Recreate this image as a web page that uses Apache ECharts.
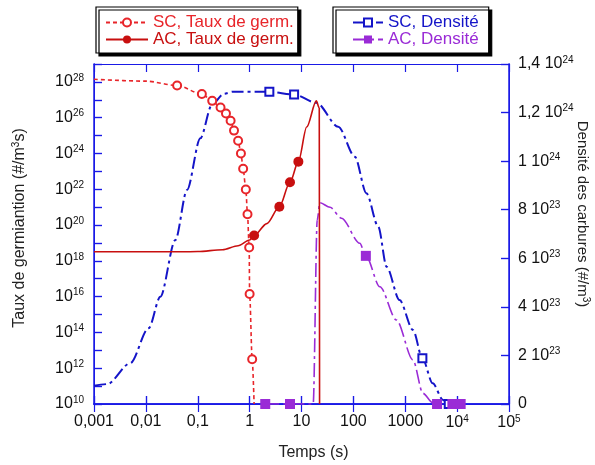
<!DOCTYPE html>
<html><head><meta charset="utf-8">
<script src="https://cdn.jsdelivr.net/npm/echarts@6/dist/echarts.min.js"></script>
<style>html,body{margin:0;padding:0;background:#fff}#c{width:595px;height:465px}</style>
</head><body><div id="c"></div>
<script>
// ---------- data ----------
const xTickLabels = ['0,001','0,01','0,1','1','10','100','1000','10^4','10^5'];
const leftTickLabels = ['10^10','10^12','10^14','10^16','10^18','10^20','10^22','10^24','10^26','10^28'];
const rightTickLabels = ['0','2 10^23','4 10^23','6 10^23','8 10^23','1 10^24','1,2 10^24','1,4 10^24'];

// SC, Taux de germ. (left log axis)
const scTauxT = [0.001,0.01,0.04,0.12,0.19,0.275,0.35,0.43,0.50,0.60,0.68,0.75,0.845,0.91,0.98,1.0,1.12,1.22];
const scTauxV = [1.4e28,1.1e28,6.3e27,2.1e27,8.7e26,3.7e26,1.7e26,6.8e25,1.9e25,5.1e24,1.0e24,1.4e23,9.8e21,4.0e20,5.6e18,1.4e16,3.2e12,1.0e10];
const scTauxMk = [0,0,1,1,1,1,1,1,1,1,1,1,1,1,1,1,1,0];

// AC, Taux de germ. (left log axis)
const acTauxT = [0.001,0.01,0.05,0.1,0.3,0.6,1.0,1.22,2.15,3.74,6.0,8.7,12.6,19.3,22.0,22.3];
const acTauxV = [3.2e18,3.2e18,3.2e18,3.3e18,4.2e18,7.0e18,1.45e19,2.6e19,1.2e20,1.05e21,2.45e22,3.5e23,3.0e25,8.7e26,3.5e26,1.0e10];
const acTauxMk = [0,0,0,0,0,0,0,1,0,1,1,1,0,0,0,0];

// SC, Densité (right axis)
const scDensT = [0.001,0.0018,0.005,0.0113,0.019,0.037,0.062,0.112,0.187,0.316,0.48,2.4,7.2,19.5,51,107,178,302,437,776,1410,2140,3390,5370,6900,9000];
const scDensV = [0.075e24,0.082e24,0.168e24,0.312e24,0.442e24,0.675e24,0.881e24,1.094e24,1.231e24,1.277e24,1.286e24,1.286e24,1.274e24,1.24e24,1.142e24,1.018e24,0.868e24,0.73e24,0.565e24,0.428e24,0.305e24,0.188e24,0.085e24,0.016e24,0,0];
const scDensMk = [0,0,0,0,0,0,0,0,0,0,0,1,1,0,0,0,0,0,0,0,0,1,0,0,1,1];

// AC, Densité (right axis)
const acDensT = [2.0,6.0,16.8,20.1,22.6,35.5,59,133,174,324,676,1410,2190,3390,4100,8100,11700];
const acDensV = [0,0,0,0.758e24,0.829e24,0.81e24,0.765e24,0.662e24,0.61e24,0.483e24,0.346e24,0.181e24,0.044e24,0.005e24,0,0,0];
const acDensMk = [1,1,0,0,0,0,0,0,1,0,0,0,0,0,1,1,1];

// ---------- helpers ----------
const sup = s => s.replace(/\^(\d+)/g, '{sup|$1}');
const mk = (t, v, m) => t.map((x, i) => ({ value: [x, v[i]], symbol: m[i] ? undefined : 'none' }));
const FONT = 'Liberation Sans';
const AXC = '#1a1ae6';
const rich = { sup: { fontSize: 10, fontFamily: FONT, color: '#111', padding: [0, 0, 8, 0] } };
const C_SCT = '#e8252a', C_ACT = '#c80f0f', C_SCD = '#1414c8', C_ACD = '#9a2bd6';
const tick = () => ({ show: true, inside: true, length: 8, lineStyle: { color: AXC, width: 1.2 } });
const noSplit = () => ({ show: true, lineStyle: { opacity: 0 } });
// bare overlay axes that only carry the inward ticks
const tickAxis = (type, min, max, interval, position) => ({
  type, min, max, interval, position,
  axisLine: { show: true, lineStyle: { color: AXC } },
  axisTick: tick(), splitLine: noSplit(),
  axisLabel: { color: 'rgba(0,0,0,0)' }
});

const chart = echarts.init(document.getElementById('c'));
chart.setOption({
  animation: false,
  grid: { left: 94, right: 86, top: 64, bottom: 61, outerBoundsMode: 'none' },
  legend: [
    {
      orient: 'vertical', left: 96, top: 7, itemWidth: 42, itemHeight: 10, itemGap: 0,
      padding: [7, 4, 5, 9], borderColor: '#000', borderWidth: 1.2, backgroundColor: '#fff',
      shadowColor: '#000', shadowOffsetX: 3, shadowOffsetY: 3, shadowBlur: 0,
      textStyle: { fontSize: 17, fontFamily: FONT },
      data: [
        { name: 'SC, Taux de germ.', textStyle: { color: C_SCT } },
        { name: 'AC, Taux de germ.', textStyle: { color: C_ACT } }
      ]
    },
    {
      orient: 'vertical', left: 333, top: 7, itemWidth: 30, itemHeight: 10, itemGap: 0,
      padding: [7, 10, 5, 19], borderColor: '#000', borderWidth: 1.2, backgroundColor: '#fff',
      shadowColor: '#000', shadowOffsetX: 3, shadowOffsetY: 3, shadowBlur: 0,
      textStyle: { fontSize: 17, fontFamily: FONT },
      data: [
        { name: 'SC, Densité', textStyle: { color: C_SCD } },
        { name: 'AC, Densité', textStyle: { color: C_ACD } }
      ]
    }
  ],
  xAxis: [
    {
      type: 'log', logBase: 10, min: 0.001, max: 100000, interval: 1, position: 'bottom',
      name: 'Temps (s)', nameLocation: 'middle', nameGap: 41,
      nameTextStyle: { fontSize: 16, color: '#222', fontFamily: FONT, padding: [0, 0, 0, 24] },
      axisLine: { show: true, lineStyle: { color: AXC, width: 1.5 } },
      axisTick: tick(), splitLine: noSplit(),
      axisLabel: {
        margin: 10, fontSize: 16, color: '#111', fontFamily: FONT, rich,
        formatter: v => sup(xTickLabels[Math.round(Math.log10(v)) + 3] || '')
      }
    },
    {
      type: 'log', logBase: 10, min: 0.001, max: 100000, interval: 1, position: 'top',
      axisLine: { show: true, lineStyle: { color: AXC, width: 1.5 } },
      axisTick: tick(), splitLine: noSplit(),
      axisLabel: { show: true, formatter: () => '' }
    },
    tickAxis('log', 0.001, 100000, 1, 'bottom'),
    tickAxis('log', 0.001, 100000, 1, 'top')
  ],
  yAxis: [
    {
      type: 'log', logBase: 10, min: 1e10, max: 1e29, interval: 1, position: 'left',
      name: sup('Taux de germiantion (#/m^3s)'), nameLocation: 'middle', nameGap: 65, nameRotate: 90, nameMoveOverlap: false,
      nameTextStyle: { fontSize: 16, color: '#222', fontFamily: FONT, rich, padding: [0, 0, 0, 12] },
      axisLine: { show: true, lineStyle: { color: AXC, width: 1.5 } },
      axisTick: Object.assign(tick(), { interval: 0 }), splitLine: noSplit(),
      axisLabel: {
        interval: 1, margin: 10, fontSize: 16, color: '#111', fontFamily: FONT, rich,
        formatter: v => { const e = Math.round(Math.log10(v)); return (e % 2 === 0) ? sup(leftTickLabels[(e - 10) / 2] || '') : ''; }
      }
    },
    {
      type: 'value', min: 0, max: 1.4e24, interval: 0.2e24, position: 'right',
      name: sup('Densité des carbures (#/m^3)'), nameLocation: 'middle', nameGap: 64, nameRotate: -90, nameMoveOverlap: false,
      nameTextStyle: { fontSize: 15, color: '#222', fontFamily: FONT, rich, padding: [0, 40, 0, 0] },
      axisLine: { show: true, lineStyle: { color: AXC, width: 1.5 } },
      axisTick: tick(), splitLine: noSplit(),
      axisLabel: {
        margin: 9, fontSize: 16, color: '#111', fontFamily: FONT, rich,
        formatter: v => sup(rightTickLabels[Math.round(v / 0.2e24)] || '')
      }
    },
    tickAxis('log', 1e10, 1e29, 1, 'left'),
    tickAxis('value', 0, 1.4e24, 0.2e24, 'right')
  ],
  series: [
    {
      name: 'SC, Taux de germ.', type: 'line', xAxisIndex: 0, yAxisIndex: 0, smooth: 0.3, smoothMonotone: 'x',
      symbol: 'emptyCircle', symbolSize: 8, color: C_SCT,
      lineStyle: { color: C_SCT, width: 1.6, type: [4, 3] },
      itemStyle: { color: C_SCT, borderWidth: 1.2 },
      data: mk(scTauxT, scTauxV, scTauxMk), z: 3
    },
    {
      name: 'AC, Taux de germ.', type: 'line', xAxisIndex: 0, yAxisIndex: 0, smooth: 0.3, smoothMonotone: 'x',
      symbol: 'circle', symbolSize: 10, color: C_ACT,
      lineStyle: { color: C_ACT, width: 1.6 },
      itemStyle: { color: C_ACT },
      data: mk(acTauxT, acTauxV, acTauxMk), z: 4
    },
    {
      name: 'SC, Densité', type: 'line', xAxisIndex: 0, yAxisIndex: 1, smooth: 0.3, smoothMonotone: 'x',
      symbol: 'emptyRect', symbolSize: 8, color: C_SCD,
      lineStyle: { color: C_SCD, width: 2, type: [12, 4, 3, 4] },
      itemStyle: { color: C_SCD, borderWidth: 1.2 },
      data: mk(scDensT, scDensV, scDensMk), z: 2
    },
    {
      name: 'AC, Densité', type: 'line', xAxisIndex: 0, yAxisIndex: 1, smooth: 0.3, smoothMonotone: 'x',
      symbol: 'rect', symbolSize: 10, color: C_ACD,
      lineStyle: { color: C_ACD, width: 1.6, type: [14, 4, 3, 4] },
      itemStyle: { color: C_ACD },
      data: mk(acDensT, acDensV, acDensMk), z: 2
    }
  ]
});
</script></body></html>
